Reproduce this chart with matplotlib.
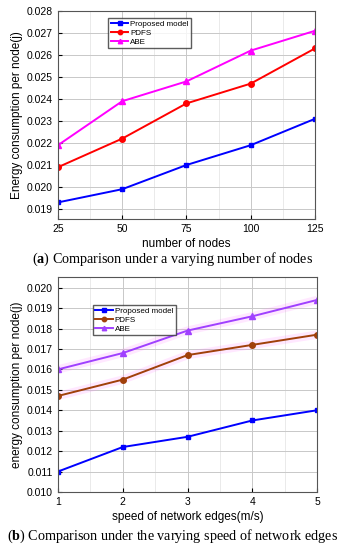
import matplotlib
matplotlib.use("Agg")
import matplotlib.pyplot as plt
from matplotlib.ticker import MultipleLocator, FormatStrFormatter

# (a) varying number of nodes
nodes = [25, 50, 75, 100, 125]
proposed_a = [0.0193, 0.0199, 0.0210, 0.0219, 0.0231]
pdfs_a = [0.0209, 0.0222, 0.0238, 0.0247, 0.0263]
abe_a = [0.0219, 0.0239, 0.0248, 0.0262, 0.0271]

# (b) varying speed of network edges
speed = [1, 2, 3, 4, 5]
proposed_b = [0.0110, 0.0122, 0.0127, 0.0135, 0.0140]
pdfs_b = [0.0147, 0.0155, 0.0167, 0.0172, 0.0177]
abe_b = [0.0160, 0.0168, 0.0179, 0.0186, 0.0194]

plt.rcParams["font.family"] = ["Liberation Sans", "DejaVu Sans"]
plt.rcParams["mathtext.fontset"] = "custom"
plt.rcParams["mathtext.bf"] = "Liberation Serif:bold"

fig = plt.figure(figsize=(3.45, 5.5), dpi=100)


def style_axes(ax):
    ax.grid(True, which="major", color="#c8c8c8", linewidth=0.7)
    ax.grid(True, which="minor", axis="x", color="#e6e6e6", linewidth=0.6)
    ax.tick_params(which="both", direction="in", labelsize=7.5, length=3)
    ax.tick_params(which="minor", length=0)
    for s in ax.spines.values():
        s.set_color("#555555")
        s.set_linewidth(0.8)
    ax.yaxis.set_major_formatter(FormatStrFormatter("%.3f"))


# top chart
ax1 = fig.add_axes([0.168, 0.602, 0.745, 0.378])
ax1.plot(nodes, proposed_a, color="#0000ff", marker="s", markersize=3.5, lw=1.4, label="Proposed model")
ax1.plot(nodes, pdfs_a, color="#ff0000", marker="o", markersize=4, lw=1.4, label="PDFS")
ax1.plot(nodes, abe_a, color="#ff00ff", marker="^", markersize=4, lw=1.4, label="ABE")
ax1.set_xlim(25, 125)
ax1.set_ylim(0.01855, 0.028)
ax1.xaxis.set_major_locator(MultipleLocator(25))
ax1.xaxis.set_minor_locator(MultipleLocator(12.5))
ax1.yaxis.set_major_locator(MultipleLocator(0.001))
style_axes(ax1)
ax1.set_xlabel("number of nodes", fontsize=8.5, labelpad=3)
ax1.set_ylabel("Energy consumption per node(j)", fontsize=8.5, labelpad=3)
ax1.legend(loc="upper left", bbox_to_anchor=(0.18, 0.985), fontsize=5.8, frameon=True,
           fancybox=False, edgecolor="#333333", handlelength=2.2, borderpad=0.3,
           labelspacing=0.15, handletextpad=0.2, markerscale=0.8)

fig.text(0.5, 0.529, r"($\mathbf{a}$) Comparison under a varying number of nodes",
         ha="center", va="center", fontsize=10.2, family=["Liberation Serif", "DejaVu Serif"])

# bottom chart
ax2 = fig.add_axes([0.168, 0.1055, 0.751, 0.39])
for ys in (pdfs_b, abe_b):
    ax2.plot(speed, ys, color="#ff80ff", lw=6, alpha=0.18, solid_capstyle="butt")
ax2.plot(speed, proposed_b, color="#0000ff", marker="s", markersize=3.5, lw=1.4, label="Proposed model")
ax2.plot(speed, pdfs_b, color="#a0400a", marker="o", markersize=4, lw=1.4, label="PDFS")
ax2.plot(speed, abe_b, color="#a040ff", marker="^", markersize=4, lw=1.4, label="ABE")
ax2.set_xlim(1, 5)
ax2.set_ylim(0.010, 0.0205)
ax2.xaxis.set_major_locator(MultipleLocator(1))
ax2.xaxis.set_minor_locator(MultipleLocator(0.5))
ax2.yaxis.set_major_locator(MultipleLocator(0.001))
style_axes(ax2)
ax2.set_xlabel("speed of network edges(m/s)", fontsize=8.5, labelpad=3)
ax2.set_ylabel("energy consumption per node(j)", fontsize=8.5, labelpad=3)
ax2.legend(loc="upper left", bbox_to_anchor=(0.12, 0.89), fontsize=5.8, frameon=True,
           fancybox=False, edgecolor="#333333", handlelength=2.2, borderpad=0.3,
           labelspacing=0.15, handletextpad=0.2, markerscale=0.8)

fig.text(0.5, 0.025, r"($\mathbf{b}$) Comparison under the varying speed of network edges",
         ha="center", va="center", fontsize=10.2, family=["Liberation Serif", "DejaVu Serif"])

fig.savefig("out.png", dpi=100)
